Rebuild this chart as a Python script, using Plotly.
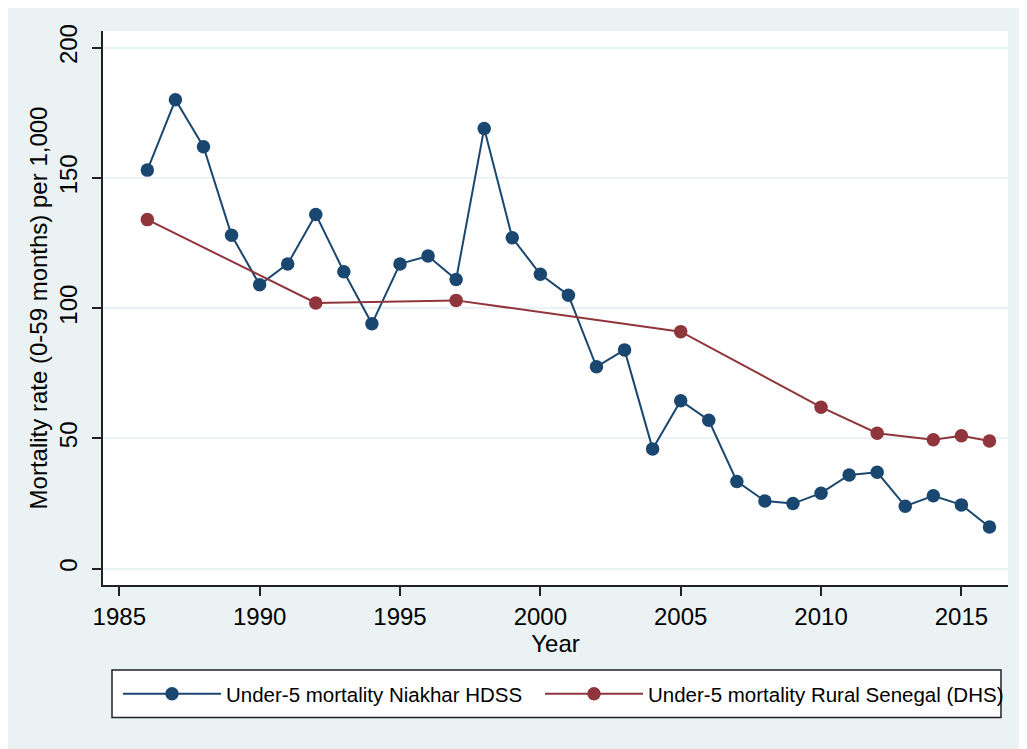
import plotly.graph_objects as go

# Data
years_hdss = list(range(1986, 2017))
mort_hdss = [153, 180, 162, 128, 109, 117, 136, 114, 94, 117, 120, 111, 169,
             127, 113, 105, 77.5, 84, 46, 64.5, 57, 33.5, 26, 25, 29, 36, 37,
             24, 28, 24.5, 16]
years_dhs = [1986, 1992, 1997, 2005, 2010, 2012, 2014, 2015, 2016]
mort_dhs = [134, 102, 103, 91, 62, 52, 49.5, 51, 49]
x_ticks = [1985, 1990, 1995, 2000, 2005, 2010, 2015]
y_ticks = [0, 50, 100, 150, 200]

NAVY = "#1a476f"
MAROON = "#90353b"
BG = "#eaf2f3"
FONT = "Liberation Sans, Arial, sans-serif"

fig = go.Figure()
fig.add_trace(go.Scatter(
    x=years_hdss, y=mort_hdss, mode="lines+markers",
    name="Under-5 mortality Niakhar HDSS",
    line=dict(color=NAVY, width=2),
    marker=dict(color=NAVY, size=13.5, line=dict(width=0)),
    legend="legend",
))
fig.add_trace(go.Scatter(
    x=years_dhs, y=mort_dhs, mode="lines+markers",
    name="Under-5 mortality Rural Senegal (DHS)",
    line=dict(color=MAROON, width=2),
    marker=dict(color=MAROON, size=13.5, line=dict(width=0)),
    legend="legend2",
))

# figure is placed at (8, 8) inside the page
W, H = 1019, 741
L, R, T, B = 95, 19, 23, 164
pw = W - L - R
ph = H - T - B

def px2x(p):
    return (p - L) / pw

def px2y(p):
    return (H - B - p) / ph

legend_common = dict(
    orientation="h", xanchor="left", yanchor="top",
    bgcolor="rgba(0,0,0,0)", borderwidth=0,
    font=dict(family=FONT, size=20.5, color="#000000"),
    itemwidth=98,
)

fig.update_layout(
    width=W, height=H,
    margin=dict(l=L, r=R, t=T, b=B, pad=0, autoexpand=False),
    paper_bgcolor=BG,
    plot_bgcolor="white",
    font=dict(family=FONT, size=24, color="#000000"),
    showlegend=True,
    legend=dict(x=px2x(110), y=px2y(666), **legend_common),
    legend2=dict(x=px2x(532), y=px2y(666), **legend_common),
    xaxis=dict(
        range=[1984.42, 2016.66],
        automargin=False,
        tickmode="array", tickvals=x_ticks,
        ticks="outside", ticklen=9, tickwidth=1.5, tickcolor="#222222",
        showline=True, linecolor="#222222", linewidth=1.5,
        showgrid=False, zeroline=False,
        tickfont=dict(size=24),
        title=dict(text="Year", standoff=0, font=dict(size=24)),
    ),
    yaxis=dict(
        range=[-6.25, 206.4],
        automargin=False,
        tickmode="array", tickvals=y_ticks,
        ticks="outside", ticklen=9, tickwidth=1.5, tickcolor="#222222",
        showline=True, linecolor="#222222", linewidth=1.5,
        showgrid=True, gridcolor=BG, gridwidth=2,
        zeroline=False,
        tickangle=-90,
        tickfont=dict(size=24),
        ticklabelstandoff=6,
        title=dict(text="Mortality rate (0-59 months) per 1,000", standoff=0,
                   font=dict(size=24)),
    ),
    shapes=[
        dict(type="rect", xref="paper", yref="paper", layer="above",
             x0=px2x(104), x1=px2x(993), y0=px2y(709.5), y1=px2y(662),
             fillcolor="white", line=dict(color="#222222", width=1.5)),
    ],
)

fig.write_html("out.html")
